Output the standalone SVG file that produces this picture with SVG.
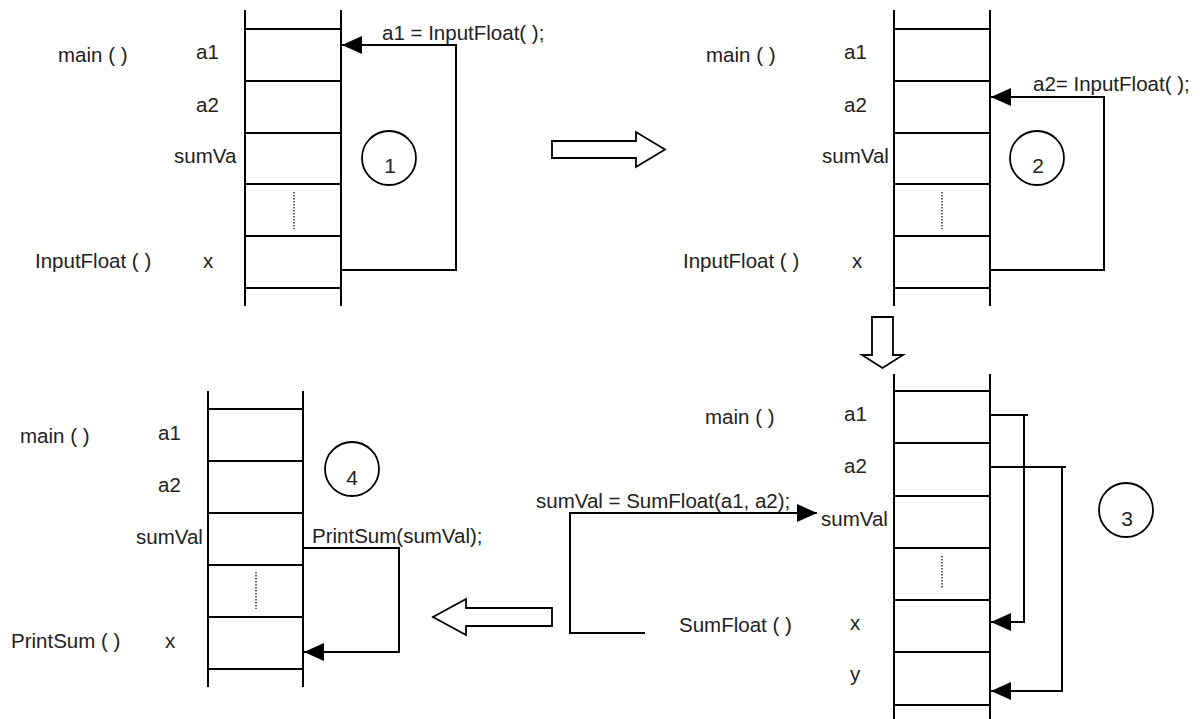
<svg xmlns="http://www.w3.org/2000/svg" width="1200" height="719" viewBox="0 0 1200 719">
<style>
  text { font-family: "Liberation Sans", Arial, sans-serif; font-size: 20.5px; fill: #222; }
  .stk { stroke: #000; stroke-width: 2; fill: none; }
  .dot { stroke: #000; stroke-width: 1.2; stroke-dasharray: 1.5 1.5; fill: none; }
  .con { stroke: #000; stroke-width: 2; fill: none; }
  .con-m { stroke: #000; stroke-width: 2; fill: none; marker-end: url(#ah); }
  .blk { stroke: #000; stroke-width: 1.8; fill: #fff; }
  .num { stroke: #000; stroke-width: 1.8; fill: none; }
  .n { text-anchor: middle; font-size: 21px; }
</style>
<defs>
  <marker id="ah" markerUnits="userSpaceOnUse" markerWidth="20" markerHeight="18" refX="20" refY="9" orient="auto">
    <path d="M0,0 L20,9 L0,18 z" fill="#000"/>
  </marker>
</defs>
<rect width="1200" height="719" fill="#fff"/>

<!-- Panel 1 -->
<g id="stack1">
  <path class="stk" d="M245,10 V306 M341,10 V306 M245,29 H341 M245,81 H341 M245,133 H341 M245,184 H341 M245,236 H341 M245,288 H341"/>
  <path class="dot" d="M294,192 V229"/>
  <text x="58" y="62">main ( )</text>
  <text x="196" y="59">a1</text>
  <text x="196" y="112">a2</text>
  <text x="174" y="163">sumVa</text>
  <text x="35" y="268">InputFloat ( )</text>
  <text x="203" y="268">x</text>
</g>
<g id="step1">
  <circle class="num" cx="389" cy="158" r="27"/>
  <text class="n" x="390" y="173">1</text>
</g>

<!-- Panel 2 -->
<g id="stack2">
  <path class="stk" d="M894,10 V306 M990,10 V306 M894,29 H990 M894,81 H990 M894,133 H990 M894,184 H990 M894,236 H990 M894,288 H990"/>
  <path class="dot" d="M942,192 V229"/>
  <text x="706" y="62">main ( )</text>
  <text x="844" y="59">a1</text>
  <text x="844" y="112">a2</text>
  <text x="822" y="163">sumVal</text>
  <text x="683" y="268">InputFloat ( )</text>
  <text x="852" y="268">x</text>
</g>
<g id="step2">
  <circle class="num" cx="1037" cy="158" r="27"/>
  <text class="n" x="1038" y="173">2</text>
</g>

<!-- Panel 3 -->
<g id="stack3">
  <path class="stk" d="M894,374 V719 M990,374 V719 M894,391 H990 M894,443 H990 M894,496 H990 M894,548 H990 M894,600 H990 M894,652 H990 M894,705 H990"/>
  <path class="dot" d="M942,556 V588"/>
  <text x="705" y="424">main ( )</text>
  <text x="844" y="421">a1</text>
  <text x="844" y="473">a2</text>
  <text x="821" y="526">sumVal</text>
  <text x="679" y="632">SumFloat ( )</text>
  <text x="850" y="630">x</text>
  <text x="850" y="681">y</text>
</g>
<g id="step3">
  <circle class="num" cx="1126" cy="510" r="27"/>
  <text class="n" x="1127" y="526">3</text>
</g>

<!-- Panel 4 -->
<g id="stack4">
  <path class="stk" d="M208,391 V687 M303,391 V687 M208,409 H303 M208,461 H303 M208,513 H303 M208,565 H303 M208,617 H303 M208,669 H303"/>
  <path class="dot" d="M256,572 V609"/>
  <text x="20" y="443">main ( )</text>
  <text x="158" y="440">a1</text>
  <text x="158" y="492">a2</text>
  <text x="136" y="544">sumVal</text>
  <text x="11" y="648">PrintSum ( )</text>
  <text x="165" y="648">x</text>
</g>
<g id="step4">
  <circle class="num" cx="352" cy="469" r="27"/>
  <text class="n" x="352" y="485">4</text>
</g>

<!-- Connectors -->
<g id="connectors">
  <path class="con-m" d="M341,270 H456 V45 H342"/>
  <text x="382" y="40">a1 = InputFloat( );</text>

  <path class="con-m" d="M990,270 H1104 V97 H991"/>
  <text x="1033" y="91">a2= InputFloat( );</text>

  <path class="con" d="M990,415 H1028"/>
  <path class="con-m" d="M1024,415 V622 H991"/>
  <path class="con" d="M990,467 H1066"/>
  <path class="con-m" d="M1062,467 V691 H991"/>

  <path class="con-m" d="M645,633 H570 V513 H817"/>
  <text x="536" y="508">sumVal = SumFloat(a1, a2);</text>

  <path class="con-m" d="M303,548 H399 V652 H304"/>
  <text x="312" y="543">PrintSum(sumVal);</text>

  <polygon class="blk" points="552,141 636,141 636,132 665,149.5 636,167 636,158 552,158"/>
  <polygon class="blk" points="872,317 893,317 893,355 903,355 882.5,368 862,355 872,355"/>
  <polygon class="blk" points="552,608 466,608 466,599 433,617 466,635 466,626 552,626"/>
</g>
</svg>
